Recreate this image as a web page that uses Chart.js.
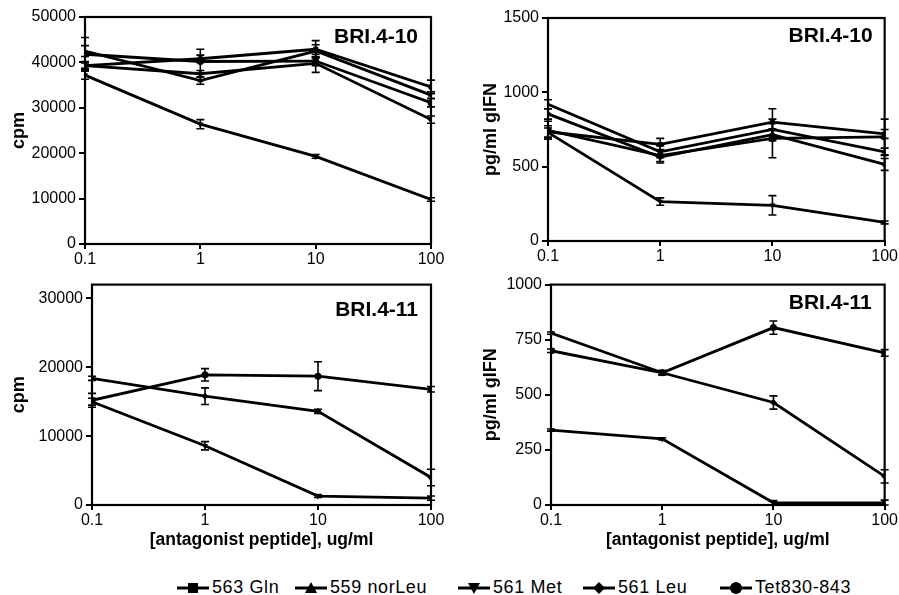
<!DOCTYPE html>
<html>
<head>
<meta charset="utf-8">
<script src="https://cdn.jsdelivr.net/npm/chart.js@4.4.1/dist/chart.umd.min.js"></script>
<style>
  html, body { margin: 0; padding: 0; background: #fff; }
  body { width: 899px; height: 595px; position: relative; overflow: hidden; font-family: "Liberation Sans", Arial, Helvetica, sans-serif; }
  canvas { position: absolute; }
  #legend { position: absolute; left: 0; top: 577px; width: 899px; height: 22px; }
  .item { position: absolute; top: 0; display: flex; align-items: center; font-size: 18px; letter-spacing: 0.6px; color: #000; white-space: nowrap; }
  .item svg { margin-right: 3px; }
</style>
</head>
<body>
<canvas id="c1" width="450" height="272" style="left:0px;top:0px"></canvas>
<canvas id="c2" width="449" height="272" style="left:450px;top:0px"></canvas>
<canvas id="c3" width="450" height="288" style="left:0px;top:272px"></canvas>
<canvas id="c4" width="449" height="288" style="left:450px;top:272px"></canvas>
<div id="legend"></div>
<script>
// ---------- DATA ----------
const concentrations = [0.1, 1, 10, 100];
const xTickLabels = ['0.1', '1', '10', '100'];
const seriesNames = ['563 Gln', '559 norLeu', '561 Met', '561 Leu', 'Tet830-843'];
const seriesKeys = ['gln', 'norLeu', 'met', 'leu', 'tet'];

// BRI.4-10, cpm
const cpm410_gln    = [39300, 40800, 42900, 34600];
const cpm410_norLeu = [42500, 36000, 42500, 32800];
const cpm410_met    = [37200, 26400, 19300, 9800];
const cpm410_leu    = [39300, 37500, 39800, 27400];
const cpm410_tet    = [41800, 40200, 40300, 31100];
const cpm410_gln_err    = [600, 800, 1900, 1500];
const cpm410_norLeu_err = [1200, 800, 1400, 700];
const cpm410_met_err    = [900, 1000, 400, 400];
const cpm410_leu_err    = [900, 700, 2000, 800];
const cpm410_tet_err    = [3700, 2700, 1000, 900];

// BRI.4-10, pg/ml gIFN
const ifn410_gln    = [735, 650, 800, 720];
const ifn410_norLeu = [920, 600, 750, 600];
const ifn410_met    = [730, 265, 240, 125];
const ifn410_leu    = [855, 565, 715, 515];
const ifn410_tet    = [745, 575, 690, 700];
const ifn410_gln_err    = [40, 40, 90, 30];
const ifn410_norLeu_err = [30, 40, 40, 25];
const ifn410_met_err    = [30, 25, 65, 10];
const ifn410_leu_err    = [35, 40, 40, 40];
const ifn410_tet_err    = [60, 40, 130, 120];

// BRI.4-11, cpm
const cpm411_met = [15000, 8600, 1300, 1000];
const cpm411_leu = [18400, 15800, 13600, 4000];
const cpm411_tet = [15200, 18900, 18700, 16800];
const cpm411_met_err = [500, 600, 200, 300];
const cpm411_leu_err = [300, 1200, 300, 1200];
const cpm411_tet_err = [1000, 900, 2100, 400];

// BRI.4-11, pg/ml gIFN
const ifn411_met = [340, 300, 10, 10];
const ifn411_leu = [780, 600, 465, 130];
const ifn411_tet = [700, 600, 805, 690];
const ifn411_met_err = [5, 5, 10, 12];
const ifn411_leu_err = [5, 10, 30, 30];
const ifn411_tet_err = [8, 10, 30, 15];

const cpmTicks410 = [0, 10000, 20000, 30000, 40000, 50000];
const ifnTicks410 = [0, 500, 1000, 1500];
const cpmTicks411 = [0, 10000, 20000, 30000];
const ifnTicks411 = [0, 250, 500, 750, 1000];

// ---------- STYLE ----------
const FONT = '"Liberation Sans", Arial, Helvetica, sans-serif';
const pointStyles = { gln: 'rect', norLeu: 'triangle', met: 'triangle', leu: 'rectRot', tet: 'circle' };
const pointRot = { gln: 0, norLeu: 0, met: 180, leu: 0, tet: 0 };

function ds(key, values, errs) {
  return {
    label: seriesNames[seriesKeys.indexOf(key)],
    data: concentrations.map((c, i) => ({ x: c, y: values[i] })),
    errors: errs,
    borderColor: '#000',
    backgroundColor: '#000',
    borderWidth: 2.8,
    pointStyle: pointStyles[key],
    rotation: pointRot[key],
    pointRadius: 3.5,
    pointBorderWidth: 0,
    pointBackgroundColor: '#000',
    tension: 0,
    fill: false
  };
}

const errorBarPlugin = {
  id: 'errbars',
  afterDatasetsDraw(chart) {
    const ctx = chart.ctx;
    const ys = chart.scales.y;
    ctx.save();
    ctx.strokeStyle = '#000';
    ctx.lineWidth = 1.6;
    chart.data.datasets.forEach((d, i) => {
      if (!d.errors) return;
      const meta = chart.getDatasetMeta(i);
      meta.data.forEach((pt, j) => {
        const e = d.errors[j];
        if (!e) return;
        const v = d.data[j].y;
        const x = pt.x;
        const y1 = ys.getPixelForValue(v + e);
        const y2 = ys.getPixelForValue(Math.max(0, v - e));
        ctx.beginPath();
        ctx.moveTo(x, y1); ctx.lineTo(x, y2);
        ctx.moveTo(x - 4, y1); ctx.lineTo(x + 4, y1);
        ctx.moveTo(x - 4, y2); ctx.lineTo(x + 4, y2);
        ctx.stroke();
      });
    });
    ctx.restore();
  }
};

const frameLabelPlugin = {
  id: 'frameLabel',
  afterDraw(chart, args, opts) {
    const { ctx, chartArea: a } = chart;
    ctx.save();
    ctx.strokeStyle = '#000';
    ctx.lineWidth = 2.2;
    ctx.strokeRect(a.left, a.top, a.right - a.left, a.bottom - a.top);
    ctx.fillStyle = '#000';
    ctx.font = 'bold 21px ' + FONT;
    ctx.textAlign = 'right';
    ctx.textBaseline = 'middle';
    ctx.fillText(opts.text, a.right - opts.dx, a.top + opts.dy);
    ctx.restore();
  }
};

function makeChart(id, cfg) {
  const { datasets, yTicks, yMax, yTitle, xTitle, panelLabel, layout, labelDx, labelDy, yTitlePad, xTitlePad } = cfg;
  return new Chart(document.getElementById(id), {
    type: 'line',
    data: { datasets },
    plugins: [errorBarPlugin, frameLabelPlugin],
    options: {
      responsive: false,
      animation: false,
      devicePixelRatio: 1,
      layout: { padding: { top: layout.top, right: layout.right, left: 0, bottom: 0 } },
      plugins: {
        legend: { display: false },
        tooltip: { enabled: false },
        frameLabel: { text: panelLabel, dx: labelDx, dy: labelDy }
      },
      scales: {
        x: {
          type: 'logarithmic',
          min: 0.1, max: 100,
          afterBuildTicks: s => { s.ticks = concentrations.map(v => ({ value: v })); },
          afterFit: s => { s.height = layout.xHeight; },
          ticks: {
            color: '#000', font: { family: FONT, size: 16 }, padding: 1, maxRotation: 0, autoSkip: false,
            callback: (v) => { const i = concentrations.indexOf(v); return i >= 0 ? xTickLabels[i] : ''; }
          },
          grid: { display: true, drawOnChartArea: false, drawTicks: true, tickLength: 5, color: '#000', lineWidth: 2 },
          border: { display: true, color: '#000', width: 2 },
          title: xTitle ? { display: true, text: xTitle, color: '#000', font: { family: FONT, size: 17.5, weight: 'bold' }, padding: { top: 0, bottom: xTitlePad } } : { display: false }
        },
        y: {
          type: 'linear',
          min: 0, max: yMax,
          afterBuildTicks: s => { s.ticks = yTicks.map(v => ({ value: v })); },
          afterFit: s => { s.width = layout.yWidth; },
          ticks: { color: '#000', font: { family: FONT, size: 16 }, padding: 3, callback: v => String(v) },
          grid: { display: true, drawOnChartArea: false, drawTicks: true, tickLength: 6, color: '#000', lineWidth: 2 },
          border: { display: true, color: '#000', width: 2 },
          title: { display: true, text: yTitle, color: '#000', font: { family: FONT, size: 18, weight: 'bold' }, padding: { top: yTitlePad, bottom: 0 } }
        }
      }
    }
  });
}

makeChart('c1', {
  datasets: [
    ds('gln', cpm410_gln, cpm410_gln_err),
    ds('norLeu', cpm410_norLeu, cpm410_norLeu_err),
    ds('met', cpm410_met, cpm410_met_err),
    ds('leu', cpm410_leu, cpm410_leu_err),
    ds('tet', cpm410_tet, cpm410_tet_err)
  ],
  yTicks: cpmTicks410, yMax: 50000, yTitle: 'cpm', panelLabel: 'BRI.4-10',
  layout: { top: 17, right: 19, yWidth: 85, xHeight: 28 }, labelDx: 13, labelDy: 20, yTitlePad: 8
});
makeChart('c2', {
  datasets: [
    ds('gln', ifn410_gln, ifn410_gln_err),
    ds('norLeu', ifn410_norLeu, ifn410_norLeu_err),
    ds('met', ifn410_met, ifn410_met_err),
    ds('leu', ifn410_leu, ifn410_leu_err),
    ds('tet', ifn410_tet, ifn410_tet_err)
  ],
  yTicks: ifnTicks410, yMax: 1500, yTitle: 'pg/ml gIFN', panelLabel: 'BRI.4-10',
  layout: { top: 18, right: 12, yWidth: 98, xHeight: 31 }, labelDx: 12, labelDy: 18, yTitlePad: 30
});
makeChart('c3', {
  datasets: [
    ds('met', cpm411_met, cpm411_met_err),
    ds('leu', cpm411_leu, cpm411_leu_err),
    ds('tet', cpm411_tet, cpm411_tet_err)
  ],
  yTicks: cpmTicks411, yMax: 32000, yTitle: 'cpm', xTitle: '[antagonist peptide], ug/ml', panelLabel: 'BRI.4-11',
  layout: { top: 6, right: 19, yWidth: 92, xHeight: 55 }, labelDx: 13, labelDy: 26, yTitlePad: 8, xTitlePad: 9
});
makeChart('c4', {
  datasets: [
    ds('met', ifn411_met, ifn411_met_err),
    ds('leu', ifn411_leu, ifn411_leu_err),
    ds('tet', ifn411_tet, ifn411_tet_err)
  ],
  yTicks: ifnTicks411, yMax: 1000, yTitle: 'pg/ml gIFN', xTitle: '[antagonist peptide], ug/ml', panelLabel: 'BRI.4-11',
  layout: { top: 9, right: 9, yWidth: 101, xHeight: 55 }, labelDx: 13, labelDy: 19, yTitlePad: 30, xTitlePad: 9
});

// ---------- LEGEND (HTML) ----------
const legendLeft = [177, 295, 458, 583, 720];
function markerSvg(key) {
  let shape = '';
  if (key === 'gln') shape = '<rect x="11" y="2" width="10" height="10" fill="#000"/>';
  if (key === 'norLeu') shape = '<polygon points="16,1 22,12 10,12" fill="#000"/>';
  if (key === 'met') shape = '<polygon points="10,2 22,2 16,13" fill="#000"/>';
  if (key === 'leu') shape = '<polygon points="16,1 22,7 16,13 10,7" fill="#000"/>';
  if (key === 'tet') shape = '<circle cx="16" cy="7" r="6" fill="#000"/>';
  return '<svg width="32" height="14" viewBox="0 0 32 14"><line x1="0" y1="7" x2="32" y2="7" stroke="#000" stroke-width="3"/>' + shape + '</svg>';
}
const legend = document.getElementById('legend');
seriesKeys.forEach((k, i) => {
  const d = document.createElement('div');
  d.className = 'item';
  d.style.left = legendLeft[i] + 'px';
  d.innerHTML = markerSvg(k) + '<span>' + seriesNames[i] + '</span>';
  legend.appendChild(d);
});
</script>
</body>
</html>
